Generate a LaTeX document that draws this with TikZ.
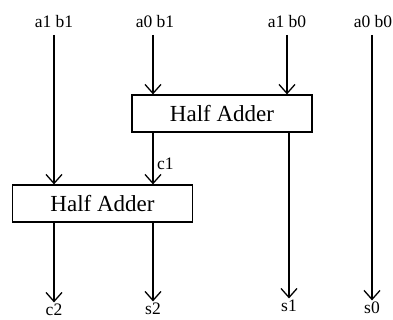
\documentclass[tikz,border=0pt]{standalone}
\usepackage{fontspec}
\setmainfont{Liberation Serif}
\usetikzlibrary{arrows.meta}

\begin{document}
\begin{tikzpicture}[x=1pt, y=-1pt,
      sig/.style={inner sep=1.5pt, font=\fontsize{17.5}{20}\selectfont},
      adder/.style={draw, line width=1.2pt, minimum width=180pt, minimum height=37pt,
      inner sep=0pt, font=\fontsize{23}{26}\selectfont},
      wire/.style={line width=1.3pt, -{Straight Barb[length=9pt, width=16pt, line width=1.3pt]}} ]
  \useasboundingbox (0,0) rectangle (393,320);
  % inputs
  \node[sig] (a1b1) at (54,22) {a1 b1};
  \node[sig] (a0b1) at (155,22) {a0 b1};
  \node[sig] (a1b0) at (287,22) {a1 b0};
  \node[sig] (a0b0) at (373,22) {a0 b0};
  % half adders
  \node[adder] (ha1) at (222,113.5) {Half Adder};
  \node[adder] (ha2) at (102.5,203.5) {Half Adder};
  % outputs
  \node[sig] (c2) at (54,310) {c2};
  \node[sig] (s2) at (153,309) {s2};
  \node[sig] (s1) at (289,306) {s1};
  \node[sig] (s0) at (372,308) {s0};
  % wires
  \draw[wire, shorten <=5pt] (a1b1.south) -- (a1b1.south |- ha2.north);
  \draw[wire, shorten <=5pt] (a0b1.south -| s2) -- (s2 |- ha1.north);
  \draw[wire, shorten <=5pt] (a1b0.south) -- (a1b0.south |- ha1.north);
  \draw[wire, shorten <=5pt] (a0b0.south -| s0) -- (s0.north);
  \draw[wire] (ha1.south -| s2) -- node[sig, right, xshift=2pt, pos=0.6]{c1} (s2 |- ha2.north);
  \draw[wire] (ha1.south -| s1) -- (s1.north);
  \draw[wire] (ha2.south -| c2) -- (c2.north);
  \draw[wire] (ha2.south -| s2) -- (s2.north);
\end{tikzpicture}
\end{document}
